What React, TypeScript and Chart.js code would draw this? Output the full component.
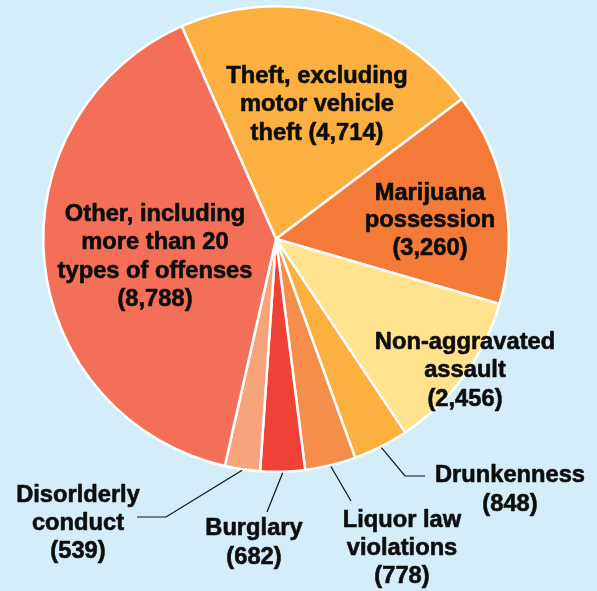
import React, { useEffect, useRef } from "react";
import { Chart, registerables } from "chart.js";

Chart.register(...registerables);

const categories = [
  "Theft, excluding motor vehicle theft",
  "Marijuana possession",
  "Non-aggravated assault",
  "Drunkenness",
  "Liquor law violations",
  "Burglary",
  "Disorderly conduct",
  "Other, including more than 20 types of offenses",
];
const values = [4714, 3260, 2456, 848, 778, 682, 539, 8788];
const labelLines = [
  ["Theft, excluding", "motor vehicle", "theft (4,714)"],
  ["Marijuana", "possession", "(3,260)"],
  ["Non-aggravated", "assault", "(2,456)"],
  ["Drunkenness", "(848)"],
  ["Liquor law", "violations", "(778)"],
  ["Burglary", "(682)"],
  ["Disorlderly", "conduct", "(539)"],
  ["Other, including", "more than 20", "types of offenses", "(8,788)"],
];
const colors = ["#fbb040", "#f47a38", "#fee28e", "#fbb040", "#f68e4b", "#ef4136", "#f8a47a", "#f36f57"];

// label layout (styling)
const labelPos: { x: number; y: number; gap: number }[] = [
  { x: 317, y: 76, gap: 28.5 },
  { x: 430, y: 193, gap: 27.5 },
  { x: 465, y: 342, gap: 28.5 },
  { x: 510, y: 475, gap: 29 },
  { x: 402, y: 520, gap: 28 },
  { x: 254, y: 528, gap: 29 },
  { x: 78, y: 495, gap: 28 },
  { x: 155, y: 214, gap: 28.5 },
];
// leader lines: list of points after start on arc edge
const leaders: ({ x: number; y: number }[] | null)[] = [
  null,
  null,
  null,
  [{ x: 405, y: 476 }, { x: 425, y: 476 }],
  [{ x: 351, y: 501 }],
  [{ x: 267, y: 512 }],
  [{ x: 166, y: 517 }, { x: 137, y: 517 }],
  null,
];

const labelPlugin = {
  id: "pieLabels",
  afterDatasetsDraw(chart: any) {
    const ctx = chart.ctx;
    const meta = chart.getDatasetMeta(0);
    ctx.save();
    meta.data.forEach((arc: any, i: number) => {
      const lead = leaders[i];
      if (lead) {
        const p = arc.getProps(["x", "y", "startAngle", "endAngle", "outerRadius"], true);
        const mid = (p.startAngle + p.endAngle) / 2;
        const r = p.outerRadius + 1;
        ctx.beginPath();
        ctx.moveTo(p.x + Math.cos(mid) * r, p.y + Math.sin(mid) * r);
        lead.forEach((pt) => ctx.lineTo(pt.x, pt.y));
        ctx.strokeStyle = "#111";
        ctx.lineWidth = 1.2;
        ctx.stroke();
      }
    });
    ctx.fillStyle = "#0d0d0d";
    ctx.strokeStyle = "#0d0d0d";
    ctx.lineWidth = 0.6;
    ctx.lineJoin = "round";
    ctx.font = 'bold 23.7px "Liberation Sans", Arial, sans-serif';
    ctx.textAlign = "center";
    ctx.textBaseline = "middle";
    labelLines.forEach((lines, i) => {
      const lp = labelPos[i];
      lines.forEach((t, j) => {
        ctx.fillText(t, lp.x, lp.y + j * lp.gap);
        ctx.strokeText(t, lp.x, lp.y + j * lp.gap);
      });
    });
    ctx.restore();
  },
};

export default function App() {
  const ref = useRef<HTMLCanvasElement>(null);
  useEffect(() => {
    if (!ref.current) return;
    const chart = new Chart(ref.current, {
      type: "pie",
      data: {
        labels: categories,
        datasets: [
          {
            data: values,
            backgroundColor: colors,
            borderColor: "#ffffff",
            borderWidth: 2.5,
          },
        ],
      },
      options: {
        responsive: false,
        animation: false,
        rotation: -23.9,
        layout: { padding: { left: 42, right: 87, top: 5, bottom: 118 } },
        plugins: { legend: { display: false }, tooltip: { enabled: false } },
      },
      plugins: [labelPlugin],
    });
    return () => chart.destroy();
  }, []);
  return (
    <div style={{ position: "fixed", left: 0, top: 0, width: 597, height: 591, background: "#d4eef9" }}>
      <canvas ref={ref} width={597} height={591} style={{ display: "block" }} />
    </div>
  );
}
